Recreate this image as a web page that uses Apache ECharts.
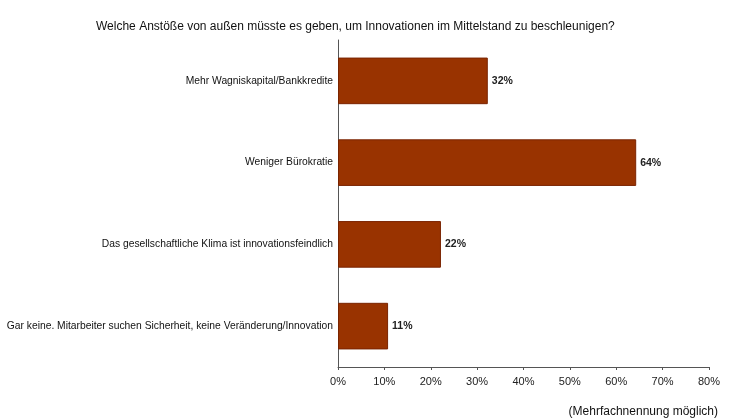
<!DOCTYPE html>
<html>
<head>
<meta charset="utf-8">
<script src="https://cdn.jsdelivr.net/npm/echarts@6/dist/echarts.min.js"></script>
<style>
    html, body { margin: 0; padding: 0; background: #fff; }
    #chart { width: 731px; height: 420px; }
</style>
</head>
<body>
<div id="chart"></div>
<script>
    // Kategorien von oben nach unten
    var categories = [
        'Mehr Wagniskapital/Bankkredite',
        'Weniger Bürokratie',
        'Das gesellschaftliche Klima ist innovationsfeindlich',
        'Gar keine. Mitarbeiter suchen Sicherheit, keine Veränderung/Innovation'
    ];
    var values = [32.3, 64.3, 22.2, 10.8];
    var labels = ['32%', '64%', '22%', '11%'];

    var myChart = echarts.init(document.getElementById('chart'));
    var option = {
        animation: false,
        title: [
            {
                text: 'Welche Anstöße von außen müsste es geben, um Innovationen im Mittelstand zu beschleunigen?',
                left: 91,
                top: 16,
                textStyle: {fontFamily: 'Liberation Sans', fontSize: 12, fontWeight: 'normal', color: '#111'}
            },
            {
                text: '(Mehrfachnennung möglich)',
                right: 8,
                top: 401,
                textStyle: {fontFamily: 'Liberation Sans', fontSize: 12, fontWeight: 'normal', color: '#111'}
            }
        ],
        grid: {left: 338, right: 22, top: 40, bottom: 53, outerBoundsMode: 'none'},
        xAxis: {
            type: 'value',
            min: 0,
            max: 80,
            interval: 10,
            axisLine: {show: true, lineStyle: {color: '#555', width: 1}},
            axisTick: {show: true, length: 3, lineStyle: {color: '#555'}},
            splitLine: {show: false},
            axisLabel: {
                formatter: '{value}%',
                margin: 9,
                fontFamily: 'Liberation Sans',
                fontSize: 11,
                color: '#222'
            }
        },
        yAxis: {
            type: 'category',
            inverse: true,
            data: categories,
            axisLine: {show: true, lineStyle: {color: '#555', width: 1}},
            axisTick: {show: false},
            axisLabel: {
                margin: 5,
                fontFamily: 'Liberation Sans',
                fontSize: 10.3,
                color: '#111'
            }
        },
        series: [{
            type: 'bar',
            data: values,
            barWidth: '57%',
            itemStyle: {color: '#993300', borderColor: '#7a2400', borderWidth: 1},
            label: {
                show: true,
                position: 'right',
                distance: 4,
                formatter: function (p) { return labels[p.dataIndex]; },
                fontFamily: 'Liberation Sans',
                fontSize: 10.5,
                fontWeight: 'bold',
                color: '#222'
            }
        }]
    };
    myChart.setOption(option, true);
</script>
</body>
</html>
